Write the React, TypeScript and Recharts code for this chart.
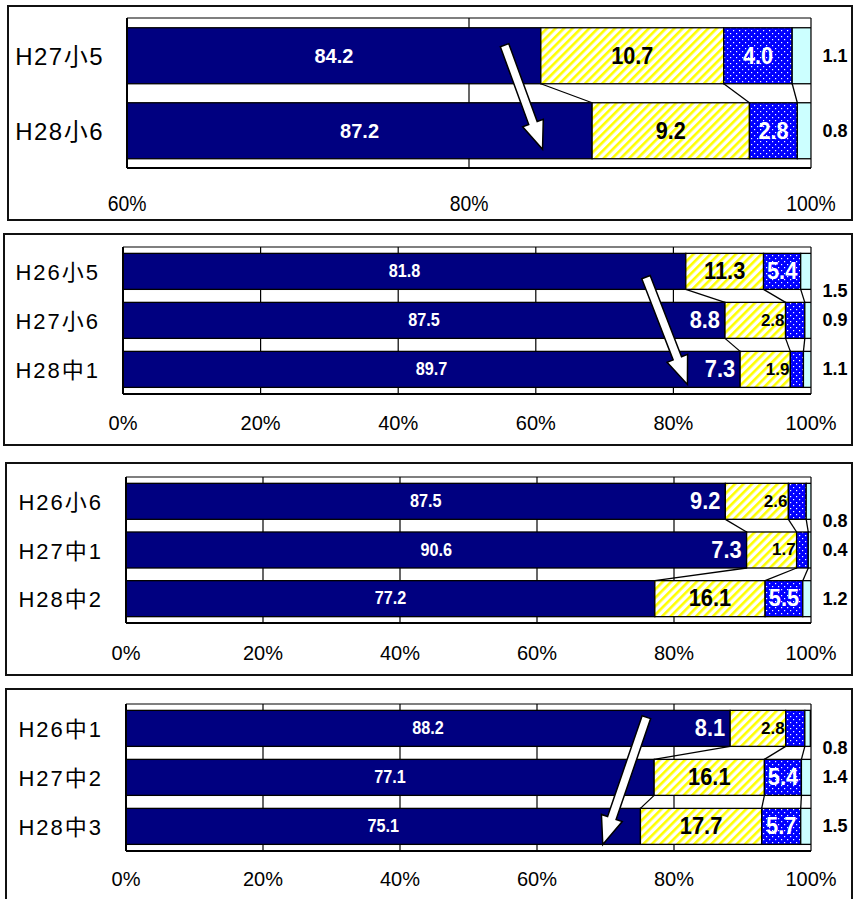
import React from "react";
import {
  BarChart,
  Bar,
  XAxis,
  YAxis,
  CartesianGrid,
  LabelList,
  ReferenceLine,
} from "recharts";

const FONT = "'Liberation Sans', Arial, 'Noto Sans CJK JP', sans-serif";

// panel 1 (60%-100%)
const p1Rows = ["H27小5", "H28小6"];
const p1Navy = [84.2, 87.2];
const p1Yellow = [10.7, 9.2];
const p1Blue = [4.0, 2.8];
const p1Cyan = [1.1, 0.8];
const p1Ticks = [60, 80, 100];
const p1Arrow = [
  { x: 82.3, y: "H27小5" },
  { x: 83.9, y: "H28小6" },
];

// panel 2
const p2Rows = ["H26小5", "H27小6", "H28中1"];
const p2Navy = [81.8, 87.5, 89.7];
const p2Yellow = [11.3, 8.8, 7.3];
const p2Blue = [5.4, 2.8, 1.9];
const p2Cyan = [1.5, 0.9, 1.1];
const p2Arrow = [
  { x: 75.7, y: "H26小5" },
  { x: 81.2, y: "H28中1" },
];

// panel 3
const p3Rows = ["H26小6", "H27中1", "H28中2"];
const p3Navy = [87.5, 90.6, 77.2];
const p3Yellow = [9.2, 7.3, 16.1];
const p3Blue = [2.6, 1.7, 5.5];
const p3Cyan = [0.8, 0.4, 1.2];

// panel 4
const p4Rows = ["H26中1", "H27中2", "H28中3"];
const p4Navy = [88.2, 77.1, 75.1];
const p4Yellow = [8.1, 16.1, 17.7];
const p4Blue = [2.8, 5.4, 5.7];
const p4Cyan = [0.8, 1.4, 1.5];
const p4Arrow = [
  { x: 75.4, y: "H26中1" },
  { x: 70.5, y: "H28中3" },
];

const fullTicks = [0, 20, 40, 60, 80, 100];

const KEYS = ["navy", "yellow", "blue", "cyan"] as const;
type Key = (typeof KEYS)[number];
const CHART_W = 855;
const RIGHT = 44;
const X_AXIS_H = 30;

interface PanelProps {
  id: string;
  top: number;
  height: number;
  rows: string[];
  navy: number[];
  yellow: number[];
  blue: number[];
  cyan: number[];
  ticks: number[];
  domain: [number, number];
  axisWidth: number;
  marginTop: number;
  marginBottom: number;
  tickGap: number;
  tickFont: number;
  tickScale: number;
  catFont: number;
  catSpacing: number;
  navyFont: number;
  navyScale: number;
  bigFont: number;
  bigScale: number;
  smallFont: number;
  arrow?: { x: number; y: string }[];
  arrowExt?: [number, number];
}

function Panel(p: PanelProps) {
  const data = p.rows.map((name, i) => ({
    name,
    navy: p.navy[i],
    yellow: p.yellow[i],
    blue: p.blue[i],
    cyan: p.cyan[i],
  }));
  const n = data.length;
  const band = (p.height - p.marginTop - p.marginBottom - X_AXIS_H) / n;
  // same linear mapping the x axis uses (plot spans axisWidth .. CHART_W-RIGHT)
  const plotL = p.axisWidth;
  const plotR = CHART_W - RIGHT;
  const k = (plotR - plotL) / (p.domain[1] - p.domain[0]);
  const px = (v: number) => plotL + (v - p.domain[0]) * k;

  const cumThrough = (row: any, key: Key) => {
    let s = 0;
    for (const kk of KEYS) {
      s += row[kk];
      if (kk === key) break;
    }
    return s;
  };

  const makeShape = (key: Key) => (props: any) => {
    const { x, y, width, height, fill, payload } = props;
    const idx = p.rows.indexOf(payload?.name);
    let connector = null;
    if (key !== "cyan" && idx >= 0 && idx < n - 1) {
      const next = data[idx + 1];
      const nx = px(cumThrough(next, key));
      connector = (
        <line
          x1={x + width}
          y1={y + height}
          x2={nx}
          y2={y + band}
          stroke="#000"
          strokeWidth={1.3}
        />
      );
    }
    return (
      <g>
        <rect x={x} y={y} width={width} height={height} fill={fill} stroke="#000" strokeWidth={1.3} />
        {connector}
      </g>
    );
  };

  const makeLabel = (key: Key) => (props: any) => {
    const vb = props.viewBox ?? props;
    const { y, height } = vb;
    const i = props.index;
    const row: any = data[i];
    if (!row) return null;
    const end = px(cumThrough(row, key));
    const start = Math.max(plotL, end - row[key] * k);
    const w = end - start;
    const cy = y + height / 2;
    let tx = (start + end) / 2;
    let ty = cy;
    let anchor: "middle" | "end" = "middle";
    let fill = "#fff";
    let size = p.bigFont;
    let sx = p.bigScale;
    const yellowNarrow = row.yellow * k < 70;
    if (key === "navy") {
      size = p.navyFont;
      sx = p.navyScale;
    } else if (key === "yellow") {
      if (!yellowNarrow) {
        fill = "#000";
      } else {
        tx = start - 5;
        anchor = "end";
      }
    } else if (key === "blue") {
      if (w < 25 && yellowNarrow) {
        tx = start - 1;
        anchor = "end";
        fill = "#000";
        size = p.smallFont;
        sx = 1;
      }
    } else {
      tx = plotR + 24;
      fill = "#000";
      size = 18;
      sx = 1;
      if (n === 3 && i === 0) ty = cy + band * 0.4;
    }
    return (
      <text
        transform={`translate(${tx},${ty}) scale(${sx},1)`}
        textAnchor={anchor}
        dominantBaseline="central"
        fontSize={size}
        fontWeight="bold"
        fontFamily={FONT}
        fill={fill}
      >
        {row[key].toFixed(1)}
      </text>
    );
  };

  const arrowShape = (props: any) => {
    const { x1, y1, x2, y2 } = props;
    const [e0, e1] = p.arrowExt ?? [0, 0];
    const dx = x2 - x1;
    const dy = y2 - y1;
    const len = Math.hypot(dx, dy) || 1;
    const ux = dx / len;
    const uy = dy / len;
    const nx = -uy;
    const ny = ux;
    const sx = x1 - ux * e0;
    const sy = y1 - uy * e0;
    const ex = x2 + ux * e1;
    const ey = y2 + uy * e1;
    const hl = 28;
    const hw = 11;
    const sw = 4.5;
    const hx = ex - ux * hl;
    const hy = ey - uy * hl;
    const pts = [
      [sx + nx * sw, sy + ny * sw],
      [hx + nx * sw, hy + ny * sw],
      [hx + nx * hw, hy + ny * hw],
      [ex, ey],
      [hx - nx * hw, hy - ny * hw],
      [hx - nx * sw, hy - ny * sw],
      [sx - nx * sw, sy - ny * sw],
    ]
      .map((q) => q.join(","))
      .join(" ");
    return <polygon points={pts} fill="#fff" stroke="#000" strokeWidth={1.5} />;
  };

  const fills: Record<Key, string> = {
    navy: "#000080",
    yellow: `url(#${p.id}-hatch)`,
    blue: `url(#${p.id}-dots)`,
    cyan: "#CCFFFF",
  };

  return (
    <div style={{ position: "absolute", left: 0, top: p.top }}>
      <BarChart
        width={CHART_W}
        height={p.height}
        data={data}
        layout="vertical"
        barCategoryGap="13%"
        margin={{ top: p.marginTop, right: RIGHT, bottom: p.marginBottom, left: 0 }}
      >
        <defs>
          <pattern
            id={`${p.id}-hatch`}
            patternUnits="userSpaceOnUse"
            width={6}
            height={6}
            patternTransform="rotate(45)"
          >
            <rect width={6} height={6} fill="#fff" />
            <rect x={0} y={0} width={2.6} height={6} fill="#FFFF00" />
          </pattern>
          <pattern id={`${p.id}-dots`} patternUnits="userSpaceOnUse" width={6} height={6}>
            <rect width={6} height={6} fill="#0000FF" />
            <rect x={1} y={1} width={1.2} height={1.2} fill="#fff" />
            <rect x={4} y={4} width={1.2} height={1.2} fill="#fff" />
          </pattern>
        </defs>
        <CartesianGrid
          fill="#fff"
          stroke="#000"
          strokeWidth={1.2}
          horizontalCoordinatesGenerator={({ offset }: any) => [
            offset.top,
            offset.top + offset.height,
          ]}
        />
        <XAxis
          type="number"
          domain={p.domain}
          ticks={p.ticks}
          allowDataOverflow
          height={X_AXIS_H}
          tickLine={false}
          tickSize={0}
          tickMargin={0}
          axisLine={{ stroke: "#000", strokeWidth: 2 }}
          tick={({ x, y, payload }: any) => (
            <text
              transform={`translate(${x},${y + p.tickGap}) scale(${p.tickScale},1)`}
              textAnchor="middle"
              dominantBaseline="central"
              fontSize={p.tickFont}
              fontFamily={FONT}
              fill="#000"
            >
              {payload.value}%
            </text>
          )}
        />
        <YAxis
          type="category"
          dataKey="name"
          width={p.axisWidth}
          interval={0}
          tickLine={false}
          tickSize={0}
          tickMargin={0}
          axisLine={{ stroke: "#000", strokeWidth: 2 }}
          tick={({ x, y, payload }: any) => (
            <text
              x={x - 23}
              y={y + 1}
              textAnchor="end"
              dominantBaseline="central"
              fontSize={p.catFont}
              letterSpacing={p.catSpacing}
              fontFamily={FONT}
              fill="#000"
            >
              {payload.value}
            </text>
          )}
        />
        {KEYS.map((key) => (
          <Bar
            key={key}
            dataKey={key}
            stackId="s"
            fill={fills[key]}
            isAnimationActive={false}
            shape={makeShape(key)}
          >
            <LabelList dataKey={key} content={makeLabel(key)} />
          </Bar>
        ))}
        {p.arrow && (
          <ReferenceLine segment={p.arrow} ifOverflow="visible" shape={arrowShape} />
        )}
      </BarChart>
    </div>
  );
}

const frames = [
  { left: 7, top: 5, width: 846, height: 216 },
  { left: 3, top: 233, width: 850, height: 213 },
  { left: 5, top: 462, width: 848, height: 214 },
  { left: 5, top: 688, width: 848, height: 220 },
];

export default function App() {
  const common = {
    tickScale: 1,
    catFont: 22,
    catSpacing: 2,
    navyFont: 18,
    navyScale: 0.9,
    bigFont: 23,
    bigScale: 0.95,
    smallFont: 17,
    domain: [0, 100] as [number, number],
    ticks: fullTicks,
    tickFont: 20,
  };
  return (
    <div
      style={{
        position: "absolute",
        left: 0,
        top: 0,
        width: 855,
        height: 899,
        overflow: "hidden",
        background: "#fff",
      }}
    >
      {frames.map((f, i) => (
        <div
          key={i}
          style={{
            position: "absolute",
            boxSizing: "border-box",
            border: "2px solid #111",
            ...f,
          }}
        />
      ))}
      <Panel
        {...common}
        id="p1"
        top={5}
        height={216}
        rows={p1Rows}
        navy={p1Navy}
        yellow={p1Yellow}
        blue={p1Blue}
        cyan={p1Cyan}
        ticks={p1Ticks}
        domain={[60, 100]}
        axisWidth={127}
        marginTop={13}
        marginBottom={23}
        tickGap={35}
        tickFont={22}
        tickScale={0.88}
        catFont={24}
        catSpacing={1.5}
        navyFont={20}
        navyScale={1}
        bigFont={24}
        bigScale={0.9}
        smallFont={18}
        arrow={p1Arrow}
        arrowExt={[11, 20]}
      />
      <Panel
        {...common}
        id="p2"
        top={233}
        height={213}
        rows={p2Rows}
        navy={p2Navy}
        yellow={p2Yellow}
        blue={p2Blue}
        cyan={p2Cyan}
        axisWidth={123}
        marginTop={14}
        marginBottom={22}
        tickGap={29}
        arrow={p2Arrow}
        arrowExt={[-6, 16]}
      />
      <Panel
        {...common}
        id="p3"
        top={462}
        height={213}
        rows={p3Rows}
        navy={p3Navy}
        yellow={p3Yellow}
        blue={p3Blue}
        cyan={p3Cyan}
        axisWidth={126}
        marginTop={15}
        marginBottom={22}
        tickGap={30}
      />
      <Panel
        {...common}
        id="p4"
        top={688}
        height={211}
        rows={p4Rows}
        navy={p4Navy}
        yellow={p4Yellow}
        blue={p4Blue}
        cyan={p4Cyan}
        axisWidth={126}
        marginTop={16}
        marginBottom={18}
        tickGap={28}
        arrow={p4Arrow}
        arrowExt={[12, 19]}
      />
    </div>
  );
}
